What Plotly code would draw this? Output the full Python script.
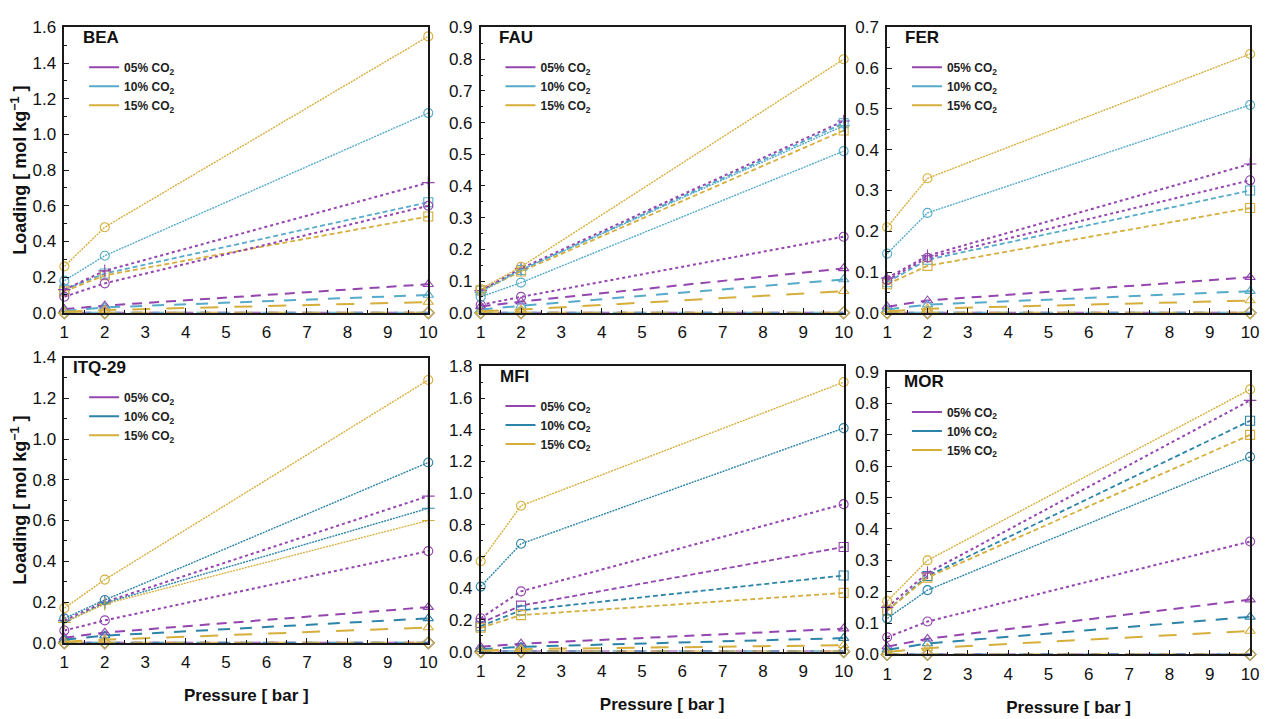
import plotly.graph_objects as go

# ---------------- data ----------------
PRESSURE = [1, 2, 10]
CO2_LABELS = ["05% CO<sub>2</sub>", "10% CO<sub>2</sub>", "15% CO<sub>2</sub>"]
PANEL_NAMES = ["BEA", "FAU", "FER", "ITQ-29", "MFI", "MOR"]

# each list: [05% series, 10% series, 15% series]; each series = loading at 1, 2, 10 bar
BEA_CIRCLE = [[0.09, 0.165, 0.60], [0.18, 0.32, 1.12], [0.26, 0.48, 1.55]]
BEA_PLUS = [[0.13, 0.235, 0.73], None, None]
BEA_SQUARE = [None, [0.13, 0.22, 0.62], [0.12, 0.21, 0.54]]
BEA_TRIANGLE = [[0.02, 0.04, 0.16], [0.01, 0.03, 0.10], [0.005, 0.015, 0.06]]

FAU_CIRCLE = [[0.025, 0.05, 0.24], [0.05, 0.095, 0.51], [0.075, 0.145, 0.80]]
FAU_PLUS = [[0.07, 0.14, 0.605], [0.065, 0.135, 0.59], None]
FAU_SQUARE = [None, [0.07, 0.135, 0.598], [0.07, 0.13, 0.575]]
FAU_TRIANGLE = [[0.02, 0.035, 0.14], [0.01, 0.022, 0.105], [0.005, 0.01, 0.068]]

FER_CIRCLE = [[0.08, 0.135, 0.325], [0.145, 0.245, 0.51], [0.21, 0.33, 0.635]]
FER_PLUS = [[0.085, 0.14, 0.365], None, None]
FER_SQUARE = [None, [0.075, 0.13, 0.30], [0.07, 0.115, 0.257]]
FER_TRIANGLE = [[0.015, 0.03, 0.087], [0.008, 0.02, 0.053], [0.003, 0.01, 0.03]]

ITQ_CIRCLE = [[0.06, 0.11, 0.45], [0.12, 0.21, 0.885], [0.17, 0.31, 1.29]]
ITQ_PLUS = [[0.11, 0.20, 0.72], [0.10, 0.195, 0.66], [0.10, 0.19, 0.60]]
ITQ_SQUARE = [None, None, None]
ITQ_TRIANGLE = [[0.025, 0.05, 0.175], [0.015, 0.035, 0.12], [0.005, 0.015, 0.075]]

MFI_CIRCLE = [[0.21, 0.38, 0.93], [0.41, 0.68, 1.41], [0.57, 0.92, 1.70]]
MFI_PLUS = [None, None, None]
MFI_SQUARE = [[0.18, 0.29, 0.66], [0.16, 0.26, 0.48], [0.15, 0.23, 0.37]]
MFI_TRIANGLE = [[0.03, 0.05, 0.145], [0.015, 0.03, 0.085], [0.005, 0.015, 0.04]]

MOR_CIRCLE = [[0.055, 0.105, 0.36], [0.115, 0.205, 0.63], [0.17, 0.30, 0.845]]
MOR_PLUS = [[0.15, 0.26, 0.81], None, None]
MOR_SQUARE = [None, [0.14, 0.25, 0.745], [0.14, 0.245, 0.70]]
MOR_TRIANGLE = [[0.025, 0.05, 0.175], [0.015, 0.035, 0.12], [0.008, 0.02, 0.075]]

DIAMOND = [0.0, 0.0, 0.0]

Y_MAX = [1.6, 0.9, 0.7, 1.4, 1.8, 0.9]
Y_DTICK = [0.2, 0.1, 0.1, 0.2, 0.2, 0.1]

# ---------------- styling / layout ----------------
W, H = 1269, 719
FONT = "Liberation Sans, Arial, sans-serif"
PURPLE = "#9445b0"
TEAL_TOP = "#55abc9"
TEAL_BOT = "#2c84a8"
YELLOW = "#d6ae3c"

# plot-area boxes in pixels: (left, right, top, bottom)
BOXES = [(60, 428, 19, 312), (481, 848, 19, 312), (892, 1259, 19, 312),
         (60, 428, 358, 651), (481, 848, 367, 660), (892, 1259, 373, 663)]
LABEL_DX = [17, 16, 16, 7, 18, 15]

panel_data = [
    (BEA_CIRCLE, BEA_PLUS, BEA_SQUARE, BEA_TRIANGLE),
    (FAU_CIRCLE, FAU_PLUS, FAU_SQUARE, FAU_TRIANGLE),
    (FER_CIRCLE, FER_PLUS, FER_SQUARE, FER_TRIANGLE),
    (ITQ_CIRCLE, ITQ_PLUS, ITQ_SQUARE, ITQ_TRIANGLE),
    (MFI_CIRCLE, MFI_PLUS, MFI_SQUARE, MFI_TRIANGLE),
    (MOR_CIRCLE, MOR_PLUS, MOR_SQUARE, MOR_TRIANGLE),
]

LONG_DASH = ["10px,7px", "12px,10px", "18px,16px"]

fig = go.Figure()
layout = {}

for i, (circ, plus, sq, tri) in enumerate(panel_data):
    n = i + 1
    sfx = "" if n == 1 else str(n)
    xa, ya = "x" + sfx, "y" + sfx
    colors = [PURPLE, TEAL_TOP if i < 3 else TEAL_BOT, YELLOW]

    def add(series, c, symbol, dash, width):
        if series is None:
            return
        col = colors[c]
        fig.add_trace(go.Scatter(
            x=PRESSURE, y=series, xaxis=xa, yaxis=ya, mode="lines+markers",
            line=dict(color=col, width=width, dash=dash),
            marker=dict(symbol=symbol, size=9, color=col, line=dict(color=col, width=1.1)),
            showlegend=False, cliponaxis=False, hoverinfo="x+y"))

    for c in range(3):
        add(DIAMOND, c, "diamond-open", LONG_DASH[c], 2)
    for c in range(3):
        add(tri[c], c, "triangle-up-open", LONG_DASH[c], 2)
    for c in range(3):
        add(sq[c], c, "square-open", "5px,3px", 1.8)
    for c in range(3):
        add(plus[c], c, "cross-thin-open", "3px,3px" if c == 0 else "2px,1px", 2 if c == 0 else 1.4)
    for c in range(3):
        add(circ[c], c, "circle-open", "3px,3px" if c == 0 else "2px,1px", 2 if c == 0 else 1.4)

    # legend entries
    leg = "legend" if n == 1 else "legend" + str(n)
    for c in range(3):
        fig.add_trace(go.Scatter(
            x=[None], y=[None], xaxis=xa, yaxis=ya, mode="lines",
            line=dict(color=colors[c], width=2),
            name="<b>" + CO2_LABELS[c] + "</b>", legend=leg, showlegend=True))

    l, r, t, b = BOXES[i]
    dom_x = [l / W, r / W]
    dom_y = [1 - b / H, 1 - t / H]
    ax_common = dict(showline=True, linecolor="#1a1a1a", linewidth=1.5, mirror=True,
                     ticks="inside", ticklen=5, tickcolor="#1a1a1a", tickwidth=1,
                     showgrid=False, zeroline=False, ticklabelstandoff=3,
                     tickfont=dict(family=FONT, size=17, color="#111"))
    xaxis = dict(ax_common, domain=dom_x, anchor=ya, range=[1, 10], tick0=1, dtick=1,
                 minor=dict(ticks="inside", ticklen=3, dtick=0.5, tick0=1, tickcolor="#1a1a1a"))
    yaxis = dict(ax_common, domain=dom_y, anchor=xa, range=[0, Y_MAX[i]], tick0=0,
                 dtick=Y_DTICK[i], tickformat=".1f",
                 minor=dict(ticks="inside", ticklen=3, dtick=Y_DTICK[i] / 2, tickcolor="#1a1a1a"))
    if i in (0, 3):
        yaxis["title"] = dict(text="<b>Loading [ mol kg<sup>−1</sup> ]</b>",
                              font=dict(family=FONT, size=18, color="#111"), standoff=1)
    if i >= 3:
        xaxis["title"] = dict(text="<b>Pressure [ bar ]</b>",
                              font=dict(family=FONT, size=17, color="#111"), standoff=18)
    layout["xaxis" + sfx] = xaxis
    layout["yaxis" + sfx] = yaxis

    layout[leg] = dict(x=(l + 20) / W, y=1 - (t + 26) / H, xanchor="left", yanchor="top",
                       bgcolor="rgba(0,0,0,0)", borderwidth=0, tracegroupgap=0,
                       font=dict(family=FONT, size=12, color="#222"))

    fig.add_annotation(text="<b>" + PANEL_NAMES[i] + "</b>", xref=xa + " domain", yref=ya + " domain",
                       x=LABEL_DX[i] / (r - l), y=1 - 10 / (b - t), xanchor="left", yanchor="middle",
                       showarrow=False, font=dict(family=FONT, size=17, color="#111"))

fig.update_layout(**layout)
fig.update_layout(width=W, height=H, margin=dict(l=0, r=0, t=0, b=0),
                  paper_bgcolor="white", plot_bgcolor="white",
                  font=dict(family=FONT, color="#111"))

fig.write_html("out.html", config={"displayModeBar": False},
               post_script="document.body.style.margin='0';")
